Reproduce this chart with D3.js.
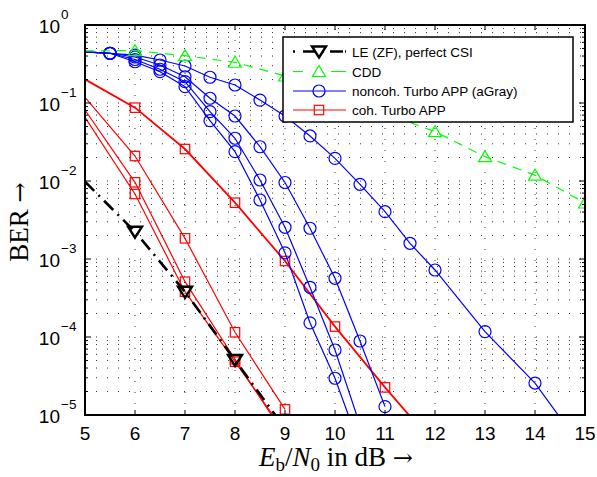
<!DOCTYPE html>
<html>
<head>
<meta charset="utf-8">
<title>BER vs Eb/N0</title>
<script src="https://cdn.jsdelivr.net/npm/d3@7"></script>
<style>
  body { margin: 0; background: #fff; }
  svg text { font-family: Arial, "Liberation Sans", Helvetica, sans-serif; }
</style>
</head>
<body>
<div id="chart"></div>
<script>
// data (BER values)
var snrLE = [5, 6, 7, 8, 9];
var berLE = [9.8e-3, 2.24e-3, 3.8e-4, 5.07e-5, 6.7e-6];

var snrCDD = [5, 6, 7, 8, 9, 10, 11, 12, 13, 14, 15];
var berCDD = [0.465, 0.47, 0.404, 0.333, 0.222, 0.130, 0.0744, 0.0429, 0.0205, 0.0119, 0.00522];

var snrNoncohA = [5, 5.5, 6, 6.5, 7, 7.5, 8, 8.5, 9, 9.5, 10, 10.5, 11, 11.5, 12, 13, 14, 15];
var berNoncohA = [0.451, 0.434, 0.412, 0.356, 0.298, 0.214, 0.170, 0.109, 0.0681, 0.0378, 0.0195, 9.07e-3, 4.04e-3, 1.59e-3, 7.23e-4, 1.17e-4, 2.57e-5, 3.36e-6];
var snrNoncohB = [5, 5.5, 6, 6.5, 7, 7.5, 8, 8.5, 9, 9.5, 10, 10.5, 11];
var berNoncohB = [0.451, 0.434, 0.389, 0.307, 0.217, 0.115, 0.0681, 0.0275, 9.57e-3, 2.48e-3, 5.66e-4, 8.89e-5, 1.28e-5];
var snrNoncohC = [5, 5.5, 6, 6.5, 7, 7.5, 8, 8.5, 9, 9.5, 10, 10.5];
var berNoncohC = [0.451, 0.434, 0.361, 0.271, 0.188, 0.0774, 0.0353, 0.0103, 2.55e-3, 4.34e-4, 6.81e-5, 7.45e-6];
var snrNoncohD = [5, 5.5, 6, 6.5, 7, 7.5, 8, 8.5, 9, 9.5, 10, 10.5];
var berNoncohD = [0.451, 0.434, 0.338, 0.252, 0.162, 0.0593, 0.0238, 5.71e-3, 1.20e-3, 1.52e-4, 2.96e-5, 3.89e-6];

var snrCohA = [5, 6, 7, 8, 9, 10, 11, 12];
var berCohA = [0.201, 0.0871, 0.0257, 5.27e-3, 9.42e-4, 1.36e-4, 2.26e-5, 4.1e-6];
var snrCohB = [5, 6, 7, 8, 9];
var berCohB = [0.118, 0.0209, 1.84e-3, 1.15e-4, 1.18e-5];
var snrCohC = [5, 6, 7, 8, 9];
var berCohC = [0.0813, 9.62e-3, 5.12e-4, 5.18e-5, 5.4e-6];
var snrCohD = [5, 6, 7, 8, 9];
var berCohD = [0.0656, 6.81e-3, 3.81e-4, 4.82e-5, 6.0e-6];

var xTicks = [5, 6, 7, 8, 9, 10, 11, 12, 13, 14, 15];
var yDecades = [0, -1, -2, -3, -4, -5];
var legendLabels = ["LE (ZF), perfect CSI", "CDD", "noncoh. Turbo APP (aGray)", "coh. Turbo APP"];

var w = 597, h = 477;
var pLeft = 85, pRight = 585, pTop = 25, pBottom = 415;
var serif = "'Liberation Serif', 'Times New Roman', serif";

var svg = d3.select("#chart").append("svg")
    .attr("width", w)
    .attr("height", h);

var x = d3.scaleLinear().domain([5, 15]).range([pLeft, pRight]);
var y = d3.scaleLog().domain([1e-5, 1]).range([pBottom, pTop]);

svg.append("defs").append("clipPath").attr("id", "plotclip")
    .append("rect")
    .attr("x", pLeft).attr("y", pTop)
    .attr("width", pRight - pLeft).attr("height", pBottom - pTop);

// dotted grid
var grid = svg.append("g").attr("stroke", "#000").attr("stroke-width", 0.8)
    .attr("stroke-dasharray", "1,10");
grid.selectAll("line.vx")
    .data(xTicks.slice(1, -1))
    .enter().append("line")
    .attr("x1", function (d) { return x(d); })
    .attr("x2", function (d) { return x(d); })
    .attr("y1", pBottom).attr("y2", pTop);
var yMinor = y.ticks().filter(function (d) { return d < 0.999 && d > 1.001e-5; });
grid.selectAll("line.hy")
    .data(yMinor)
    .enter().append("line")
    .attr("x1", pLeft).attr("x2", pRight)
    .attr("y1", function (d) { return y(d); })
    .attr("y2", function (d) { return y(d); });

// series
function zip(xs, ys) {
    return xs.map(function (v, i) { return { x: v, y: ys[i] }; });
}

var series = [
    { pts: zip(snrCohA, berCohA), color: "#ff0000", width: 1.8, dash: null, marker: "square" },
    { pts: zip(snrCohB, berCohB), color: "#ff0000", width: 1.2, dash: null, marker: "square" },
    { pts: zip(snrCohC, berCohC), color: "#ff0000", width: 1.2, dash: null, marker: "square" },
    { pts: zip(snrCohD, berCohD), color: "#ff0000", width: 1.2, dash: null, marker: "square" },
    { pts: zip(snrNoncohA, berNoncohA), color: "#0000ff", width: 1.2, dash: null, marker: "circle" },
    { pts: zip(snrNoncohB, berNoncohB), color: "#0000ff", width: 1.2, dash: null, marker: "circle" },
    { pts: zip(snrNoncohC, berNoncohC), color: "#0000ff", width: 1.2, dash: null, marker: "circle" },
    { pts: zip(snrNoncohD, berNoncohD), color: "#0000ff", width: 1.2, dash: null, marker: "circle" },
    { pts: zip(snrCDD, berCDD), color: "#00ff00", width: 1.2, dash: "9,7", marker: "triup" },
    { pts: zip(snrLE, berLE), color: "#000000", width: 2.6, dash: "13,6,2,6", marker: "tridown" }
];

var line = d3.line()
    .x(function (d) { return x(d.x); })
    .y(function (d) { return y(d.y); });

var plot = svg.append("g").attr("clip-path", "url(#plotclip)");

function drawMarker(g, type, cx, cy, color) {
    if (type === "circle") {
        g.append("circle").attr("cx", cx).attr("cy", cy).attr("r", 6)
            .attr("fill", "none").attr("stroke", color).attr("stroke-width", 1.2);
    } else if (type === "square") {
        g.append("rect").attr("x", cx - 4.7).attr("y", cy - 4.7)
            .attr("width", 9.4).attr("height", 9.4)
            .attr("fill", "none").attr("stroke", color).attr("stroke-width", 1.2);
    } else if (type === "triup") {
        g.append("path")
            .attr("d", "M" + cx + "," + (cy - 6) + "L" + (cx + 6.5) + "," + (cy + 5) + "L" + (cx - 6.5) + "," + (cy + 5) + "Z")
            .attr("fill", "none").attr("stroke", color).attr("stroke-width", 1.2);
    } else {
        g.append("path")
            .attr("d", "M" + cx + "," + (cy + 6) + "L" + (cx + 7) + "," + (cy - 5) + "L" + (cx - 7) + "," + (cy - 5) + "Z")
            .attr("fill", "none").attr("stroke", color).attr("stroke-width", 2.4);
    }
}

series.forEach(function (s) {
    plot.append("path")
        .datum(s.pts)
        .attr("d", line)
        .attr("fill", "none")
        .attr("stroke", s.color)
        .attr("stroke-width", s.width)
        .attr("stroke-dasharray", s.dash);
    s.pts.filter(function (d) { return d.x > 5; }).forEach(function (d) {
        drawMarker(plot, s.marker, x(d.x), y(d.y), s.color);
    });
});

// axis box and ticks
var ax = svg.append("g").attr("stroke", "#000");
ax.append("rect")
    .attr("x", pLeft).attr("y", pTop)
    .attr("width", pRight - pLeft).attr("height", pBottom - pTop)
    .attr("fill", "none").attr("stroke-width", 2);
xTicks.forEach(function (t) {
    ax.append("line").attr("x1", x(t)).attr("x2", x(t)).attr("y1", pBottom).attr("y2", pBottom - 5).attr("stroke-width", 1);
    ax.append("line").attr("x1", x(t)).attr("x2", x(t)).attr("y1", pTop).attr("y2", pTop + 5).attr("stroke-width", 1);
});
y.ticks().forEach(function (t) {
    var major = Math.abs(Math.log10(t) - Math.round(Math.log10(t))) < 1e-9;
    var len = major ? 6 : 3;
    ax.append("line").attr("x1", pLeft).attr("x2", pLeft + len).attr("y1", y(t)).attr("y2", y(t)).attr("stroke-width", 1);
    ax.append("line").attr("x1", pRight).attr("x2", pRight - len).attr("y1", y(t)).attr("y2", y(t)).attr("stroke-width", 1);
});

// tick labels
svg.selectAll("text.xt")
    .data(xTicks)
    .enter().append("text")
    .attr("x", function (d) { return x(d); })
    .attr("y", 440)
    .attr("text-anchor", "middle")
    .attr("font-size", "19px")
    .text(function (d) { return d; });

svg.selectAll("text.ytb")
    .data(yDecades)
    .enter().append("text")
    .attr("x", 60)
    .attr("y", function (d) { return y(Math.pow(10, d)) + 7.5; })
    .attr("text-anchor", "end")
    .attr("font-size", "19px")
    .text("10");
svg.selectAll("text.yte")
    .data(yDecades)
    .enter().append("text")
    .attr("x", 61)
    .attr("y", function (d) { return y(Math.pow(10, d)) - 6; })
    .attr("font-size", "13.5px")
    .text(function (d) { return d === 0 ? "0" : "\u2212" + (-d); });

// axis titles
var yl = svg.append("text")
    .attr("transform", "translate(28,222) rotate(-90)")
    .attr("text-anchor", "middle")
    .style("font-family", serif)
    .attr("font-size", "27px");
yl.append("tspan").text("BER ");
yl.append("tspan").style("font-family", "'DejaVu Serif', serif").attr("font-size", "24px").text("\u2192");

var xl = svg.append("text")
    .attr("x", 336).attr("y", 466)
    .attr("text-anchor", "middle")
    .style("font-family", serif)
    .attr("font-size", "27px");
xl.append("tspan").attr("font-style", "italic").text("E");
xl.append("tspan").attr("font-size", "19px").attr("dy", 5).text("b");
xl.append("tspan").attr("dy", -5).text("/");
xl.append("tspan").attr("font-style", "italic").text("N");
xl.append("tspan").attr("font-size", "19px").attr("dy", 5).text("0");
xl.append("tspan").attr("dy", -5).text(" in dB ");
xl.append("tspan").style("font-family", "'DejaVu Serif', serif").attr("font-size", "24px").text("\u2192");

// legend
var lg = svg.append("g");
lg.append("rect")
    .attr("x", 283).attr("y", 37)
    .attr("width", 290).attr("height", 85)
    .attr("fill", "#fff").attr("stroke", "#000").attr("stroke-width", 1.5);
var legendRows = [
    { label: legendLabels[0], s: series[9], y: 51.5 },
    { label: legendLabels[1], s: series[8], y: 71.5 },
    { label: legendLabels[2], s: series[4], y: 91 },
    { label: legendLabels[3], s: series[0], y: 110 }
];
legendRows.forEach(function (r) {
    var isLE = r.s.marker === "tridown";
    lg.append("line")
        .attr("x1", 293).attr("x2", 346)
        .attr("y1", r.y).attr("y2", r.y)
        .attr("stroke", r.s.color)
        .attr("stroke-width", isLE ? 2.6 : 1.2)
        .attr("stroke-dasharray", r.s.dash ? (isLE ? "2,8,13,6,2,6,13" : "10,28,15") : null);
    drawMarker(lg, r.s.marker, 319, r.y, r.s.color);
    lg.append("text")
        .attr("x", 352).attr("y", r.y + 5)
        .attr("font-size", "13.5px")
        .text(r.label);
});
</script>
</body>
</html>
